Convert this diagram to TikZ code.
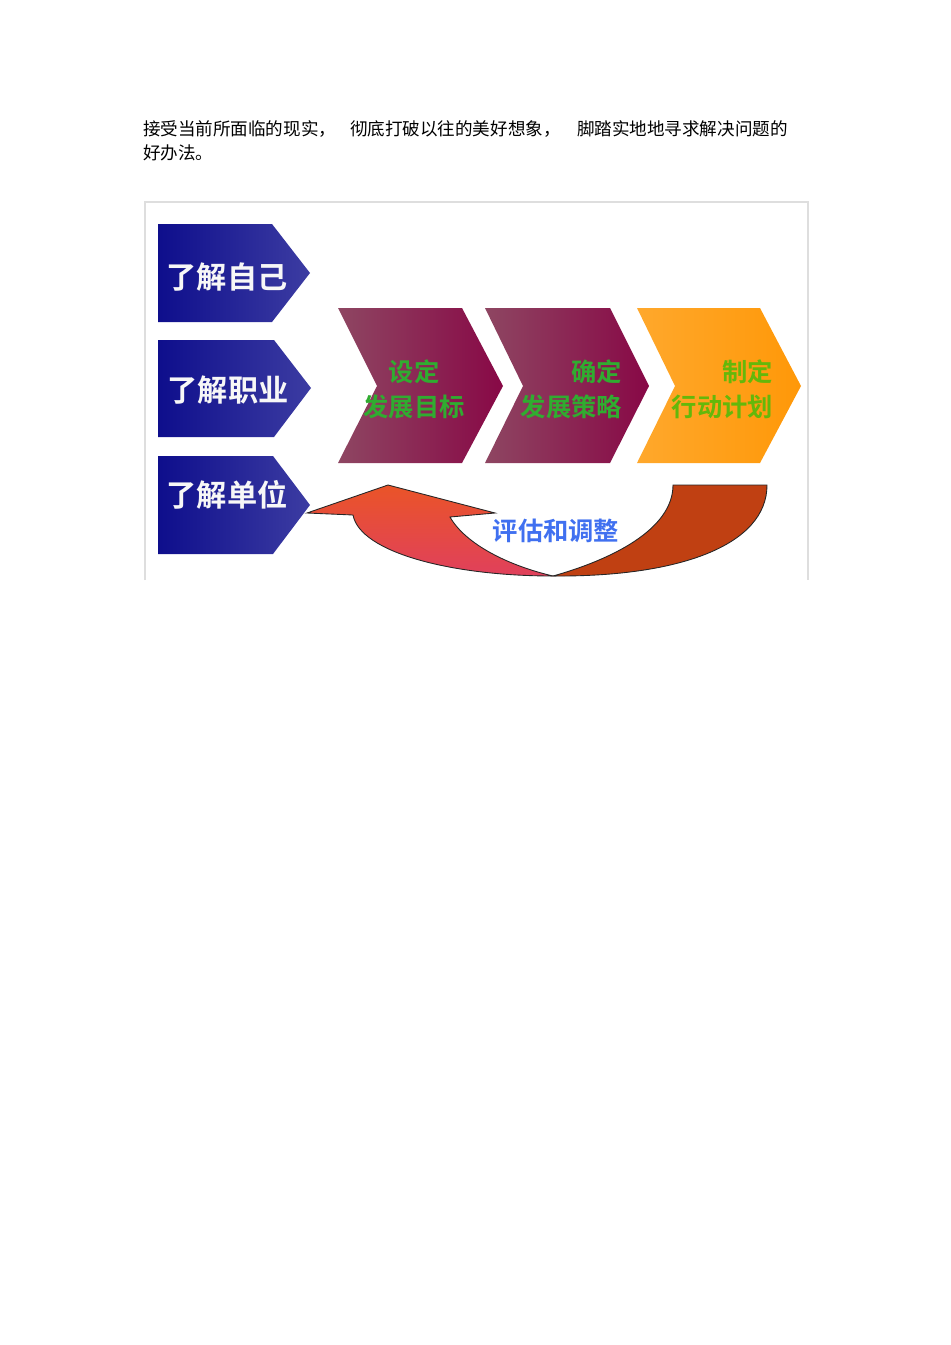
\documentclass[tikz,border=0pt]{standalone}
\usepackage{fontspec}
\newfontfamily\cjk{Noto Sans CJK SC}
\newfontfamily\cjkbold{Noto Sans CJK SC Bold}
\definecolor{navyL}{RGB}{14,14,140}
\definecolor{navyR}{RGB}{60,60,162}
\definecolor{plumL}{RGB}{142,70,98}
\definecolor{plumR}{RGB}{136,8,70}
\definecolor{amberL}{RGB}{255,168,44}
\definecolor{amberR}{RGB}{255,152,8}
\definecolor{leafgreen}{RGB}{48,172,48}
\definecolor{limegreen}{RGB}{100,184,10}
\definecolor{loopTop}{RGB}{234,84,40}
\definecolor{loopBot}{RGB}{224,64,92}
\definecolor{loopBack}{RGB}{192,64,18}
\definecolor{skyblue}{RGB}{64,112,240}
\definecolor{framegray}{RGB}{222,222,222}

\begin{document}
\begin{tikzpicture}[x=0.02cm, y=-0.02cm,
        every node/.style={inner sep=0pt, outer sep=0pt},
        bodytext/.style={anchor=west, font=\cjk\fontsize{10pt}{12pt}\selectfont},
        know/.style={left color=navyL, right color=navyR},
        knowtext/.style={font=\cjkbold\fontsize{17.2pt}{20pt}\selectfont, text=white!94!gray},
        goal/.style={left color=plumL, right color=plumR},
        plan/.style={left color=amberL, right color=amberR},
        goaltext/.style={font=\cjkbold\fontsize{14.4pt}{19.8pt}\selectfont, text=leafgreen},
        loop/.style={draw=black!85, line width=0.5pt}]
        \useasboundingbox (0,0) rectangle (950,1345);
        % intro text
        \node[bodytext] (intro1) at (143,129) {接受当前所面临的现实，};
        \node[bodytext] (intro2) at (350,129) {彻底打破以往的美好想象，};
        \node[bodytext] (intro3) at (577,129) {脚踏实地地寻求解决问题的};
        \node[bodytext] (intro4) at (143,153) {好办法。};
        
        \draw[framegray, line width=0.6pt] (145,580) |- (808,202) -- (808,580);
        
        % left column
        \shade[know] (158,224) -- (272,224) -- (310,273) -- (272,322) -- (158,322) -- cycle;
        \shade[know] (158,340) -- (274,340) -- (311,388) -- (274,437) -- (158,437) -- cycle;
        \shade[know] (158,456) -- (273,456) -- (310,505) -- (273,554) -- (158,554) -- cycle;
        \node[knowtext] (self) at (227,277) {了解自己};
        \node[knowtext] (job) at (228,390) {了解职业};
        \node[knowtext] (unit) at (227,495) {了解单位};
        
        % chevrons
        \shade[goal] (338,308) -- (462,308) -- (503,386) -- (462,463) -- (338,463) -- (377,386) -- cycle;
        \shade[goal] (485,308) -- (610,308) -- (649,386) -- (610,463) -- (485,463) -- (523,386) -- cycle;
        \shade[plan] (637,308) -- (760,308) -- (801,386) -- (760,463) -- (637,463) -- (675,386) -- cycle;
        \node[goaltext, align=center] (target) at (414,389) {设定\\发展目标};
        \node[goaltext, align=right, anchor=east] (strategy) at (622,389) {确定\\发展策略};
        \node[goaltext, align=right, anchor=east, text=limegreen] (action) at (773,389) {制定\\行动计划};
        
        % feedback loop
        \filldraw[loop, fill=loopBack] (673,485) -- (767,485)
            .. controls (767,545) and (680,577) .. (553,576)
            .. controls (610,560) and (673,530) .. (673,485) -- cycle;
        \shadedraw[loop, top color=loopTop, bottom color=loopBot] (553,576)
            .. controls (450,576) and (360,552) .. (353,515)
            -- (307,513) -- (388,485) -- (495,513) -- (450,517)
            .. controls (466,545) and (510,566) .. (553,576) -- cycle;
        \node[font=\cjkbold\fontsize{14.4pt}{18pt}\selectfont, text=skyblue] (review) at (556,531) {评估和调整};
\end{tikzpicture}
\end{document}
